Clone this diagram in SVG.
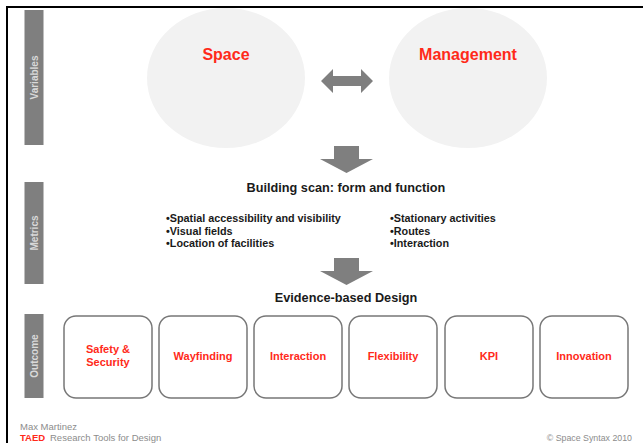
<svg xmlns="http://www.w3.org/2000/svg" width="643" height="443" viewBox="0 0 643 443">
  <style>
    .bar { fill: #7f7f7f; }
    .barlbl { font-family: "Liberation Sans", Arial, sans-serif; font-size: 10px; font-weight: bold; fill: #d9d9d9; text-anchor: middle; dominant-baseline: central; }
    .circle { fill: #f2f2f2; }
    .big { font-family: "Liberation Sans", Arial, sans-serif; font-size: 16px; font-weight: bold; fill: #ff2a1a; text-anchor: middle; }
    .head { font-family: "Liberation Sans", Arial, sans-serif; font-size: 12.7px; font-weight: bold; fill: #1a1a1a; text-anchor: middle; }
    .item { font-family: "Liberation Sans", Arial, sans-serif; font-size: 10.8px; font-weight: bold; fill: #1a1a1a; }
    .box { fill: #ffffff; stroke: #777777; stroke-width: 1.5; }
    .boxlbl { font-family: "Liberation Sans", Arial, sans-serif; font-size: 11px; font-weight: bold; fill: #ff2a1a; text-anchor: middle; }
    .arrow { fill: #7f7f7f; }
    .foot { font-family: "Liberation Sans", Arial, sans-serif; font-size: 9.5px; fill: #8c8c8c; }
  </style>

  <rect width="643" height="443" fill="#ffffff"/>
  <!-- frame -->
  <path d="M7 443 V7 H643" fill="none" stroke="#000000" stroke-width="2"/>

  <!-- row labels -->
  <g id="row-variables">
    <rect class="bar" x="24.5" y="10" width="19" height="135"/>
    <text class="barlbl" transform="translate(34 77.5) rotate(-90)">Variables</text>
  </g>
  <g id="row-metrics">
    <rect class="bar" x="24.5" y="182" width="19" height="102"/>
    <text class="barlbl" transform="translate(34 233) rotate(-90)">Metrics</text>
  </g>
  <g id="row-outcome">
    <rect class="bar" x="24.5" y="314" width="19" height="84"/>
    <text class="barlbl" transform="translate(34 356) rotate(-90)">Outcome</text>
  </g>

  <!-- variables -->
  <g id="space">
    <ellipse class="circle" cx="226" cy="78" rx="79" ry="70"/>
    <text class="big" x="226" y="60">Space</text>
  </g>
  <g id="management">
    <ellipse class="circle" cx="468" cy="78" rx="79" ry="70"/>
    <text class="big" x="468" y="60">Management</text>
  </g>

  <!-- metrics -->
  <g id="building-scan">
    <text class="head" x="346" y="192">Building scan: form and function</text>
    <text class="item" x="166" y="222">•Spatial accessibility and visibility</text>
    <text class="item" x="166" y="234.5">•Visual fields</text>
    <text class="item" x="166" y="247">•Location of facilities</text>
    <text class="item" x="390" y="222">•Stationary activities</text>
    <text class="item" x="390" y="234.5">•Routes</text>
    <text class="item" x="390" y="247">•Interaction</text>
  </g>

  <g id="evidence">
    <text class="head" x="346" y="302">Evidence-based Design</text>
  </g>

  <!-- outcomes -->
  <g id="safety">
    <rect class="box" x="64" y="316" width="88" height="82" rx="12"/>
    <text class="boxlbl" x="108" y="353">Safety &amp;</text>
    <text class="boxlbl" x="108" y="366">Security</text>
  </g>
  <g id="wayfinding">
    <rect class="box" x="159" y="316" width="88" height="82" rx="12"/>
    <text class="boxlbl" x="203" y="360">Wayfinding</text>
  </g>
  <g id="interaction">
    <rect class="box" x="254" y="316" width="88" height="82" rx="12"/>
    <text class="boxlbl" x="298" y="360">Interaction</text>
  </g>
  <g id="flexibility">
    <rect class="box" x="349" y="316" width="88" height="82" rx="12"/>
    <text class="boxlbl" x="393" y="360">Flexibility</text>
  </g>
  <g id="kpi">
    <rect class="box" x="445" y="316" width="88" height="82" rx="12"/>
    <text class="boxlbl" x="489" y="360">KPI</text>
  </g>
  <g id="innovation">
    <rect class="box" x="540" y="316" width="88" height="82" rx="12"/>
    <text class="boxlbl" x="584" y="360">Innovation</text>
  </g>

  <!-- connectors -->
  <g id="connectors">
    <polygon class="arrow" points="321,81 333,69 333,76 361,76 361,69 373,81 361,93 361,86 333,86 333,93"/>
    <polygon class="arrow" points="334,146 359,146 359,159 373,159 346.5,173 320,159 334,159"/>
    <polygon class="arrow" points="334,258 359,258 359,271 373,271 346.5,285 320,271 334,271"/>
  </g>

  <!-- footer -->
  <g id="footer">
    <text class="foot" x="20" y="430">Max Martinez</text>
    <text class="foot" x="20" y="441" style="fill:#ff2a1a;font-weight:bold">TAED</text>
    <text class="foot" x="50" y="441">Research Tools for Design</text>
    <text class="foot" x="632" y="441" text-anchor="end" style="font-size:8.8px">© Space Syntax 2010</text>
  </g>
</svg>
